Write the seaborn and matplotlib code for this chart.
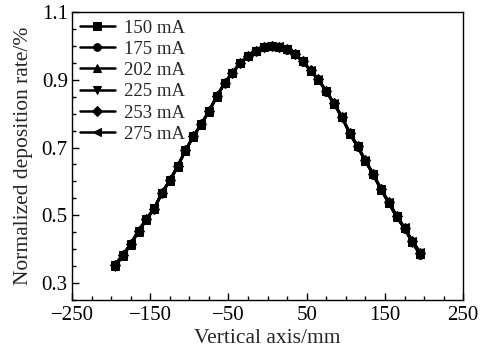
import numpy as np
import pandas as pd
import matplotlib
matplotlib.use("Agg")
import matplotlib.pyplot as plt
import seaborn as sns
from matplotlib.ticker import MultipleLocator, FixedLocator

# ---- data ----
positions = [-195, -185, -175, -165, -155, -145, -135, -125, -115, -105,
             -95, -85, -75, -65, -55, -45, -35, -25, -15, -5,
             5, 15, 25, 35, 45, 55, 65, 75, 85, 95,
             105, 115, 125, 135, 145, 155, 165, 175, 185, 195]
series_names = ["150 mA", "175 mA", "202 mA", "225 mA", "253 mA", "275 mA"]

rate_150 = [0.355, 0.383, 0.416, 0.455, 0.489, 0.521, 0.567, 0.604, 0.646, 0.692,
            0.733, 0.769, 0.808, 0.851, 0.890, 0.921, 0.949, 0.971, 0.986, 0.998,
            1.000, 0.998, 0.990, 0.976, 0.954, 0.927, 0.900, 0.866, 0.829, 0.790,
            0.742, 0.704, 0.661, 0.621, 0.577, 0.537, 0.497, 0.462, 0.422, 0.387]
rate_175 = [0.352, 0.381, 0.414, 0.453, 0.487, 0.519, 0.566, 0.602, 0.644, 0.691,
            0.732, 0.767, 0.806, 0.850, 0.889, 0.920, 0.948, 0.970, 0.985, 0.997,
            1.000, 0.997, 0.989, 0.975, 0.953, 0.926, 0.899, 0.865, 0.828, 0.789,
            0.740, 0.703, 0.659, 0.620, 0.575, 0.536, 0.495, 0.461, 0.420, 0.384]
rate_202 = [0.350, 0.380, 0.413, 0.452, 0.487, 0.519, 0.565, 0.601, 0.643, 0.690,
            0.731, 0.767, 0.806, 0.849, 0.889, 0.920, 0.948, 0.970, 0.986, 0.998,
            1.000, 0.998, 0.990, 0.976, 0.954, 0.927, 0.900, 0.866, 0.828, 0.790,
            0.741, 0.704, 0.660, 0.621, 0.576, 0.537, 0.496, 0.462, 0.421, 0.385]
rate_225 = [0.348, 0.379, 0.413, 0.452, 0.486, 0.518, 0.565, 0.602, 0.644, 0.691,
            0.732, 0.768, 0.807, 0.850, 0.890, 0.921, 0.949, 0.971, 0.986, 0.998,
            1.000, 0.998, 0.990, 0.976, 0.953, 0.926, 0.899, 0.865, 0.828, 0.789,
            0.740, 0.702, 0.659, 0.619, 0.575, 0.535, 0.494, 0.460, 0.419, 0.382]
rate_253 = [0.353, 0.382, 0.415, 0.454, 0.488, 0.520, 0.567, 0.603, 0.645, 0.692,
            0.733, 0.768, 0.807, 0.851, 0.890, 0.921, 0.949, 0.971, 0.986, 0.998,
            1.000, 0.998, 0.991, 0.977, 0.955, 0.928, 0.901, 0.867, 0.830, 0.791,
            0.743, 0.705, 0.662, 0.622, 0.578, 0.539, 0.498, 0.464, 0.424, 0.390]
rate_275 = [0.356, 0.384, 0.417, 0.456, 0.490, 0.522, 0.568, 0.604, 0.646, 0.693,
            0.734, 0.769, 0.808, 0.852, 0.891, 0.922, 0.950, 0.972, 0.987, 0.999,
            1.000, 0.999, 0.991, 0.977, 0.955, 0.928, 0.901, 0.867, 0.830, 0.792,
            0.744, 0.706, 0.663, 0.623, 0.579, 0.540, 0.499, 0.465, 0.425, 0.392]

x_ticks = [-250, -150, -50, 50, 150, 250]
y_ticks = [0.3, 0.5, 0.7, 0.9, 1.1]

all_rates = [rate_150, rate_175, rate_202, rate_225, rate_253, rate_275]
frames = []
for name, vals in zip(series_names, all_rates):
    frames.append(pd.DataFrame({"pos": positions, "rate": vals, "current": name}))
df = pd.concat(frames, ignore_index=True)

# ---- style ----
sns.set_style("ticks")
plt.rcParams["font.family"] = ["Liberation Serif", "DejaVu Serif"]

fig = plt.figure(figsize=(4.8, 3.51), dpi=100)
ax = fig.add_axes([0.150, 0.145, 0.815, 0.821])

markers = ["s", "o", "^", "v", "D", "<"]
sns.lineplot(data=df, x="pos", y="rate", hue="current", style="current",
             palette=["black"] * 6, markers=markers, dashes=False,
             markersize=5.5, linewidth=1.8, markeredgecolor="black",
             ax=ax, legend=True)

ax.set_xlim(-250, 250)
ax.set_ylim(0.25, 1.1)
ax.xaxis.set_major_locator(FixedLocator(x_ticks))
ax.xaxis.set_minor_locator(MultipleLocator(25))
ax.yaxis.set_major_locator(FixedLocator(y_ticks))
ax.yaxis.set_minor_locator(MultipleLocator(0.05))
ax.set_xticklabels([("\u2212" + str(abs(v))) if v < 0 else str(v) for v in x_ticks])
ax.set_yticklabels([f"{v:.1f}" for v in y_ticks])
ax.tick_params(axis="both", which="both", direction="in", top=False, right=False,
               labelsize=15, width=1.0, colors="black")
ax.tick_params(axis="x", which="major", pad=4)
ax.tick_params(axis="y", which="major", pad=3)
ax.tick_params(which="major", length=5)
ax.tick_params(which="minor", length=3)
for s in ax.spines.values():
    s.set_linewidth(1.0)
    s.set_color("black")

ax.set_xlabel("Vertical axis/mm", fontsize=15.5, labelpad=3)
ax.set_ylabel("Normalized deposition rate/%", fontsize=15.5, labelpad=6)

leg = ax.legend(loc="upper left", frameon=False, fontsize=13.5,
                handlelength=1.9, handletextpad=0.45, labelspacing=0.22,
                borderpad=0.1, borderaxespad=0.3, bbox_to_anchor=(0.0, 1.0))
for h in leg.get_lines():
    h.set_markersize(5.5)
    h.set_linewidth(1.8)

fig.savefig("out.png", dpi=100)
